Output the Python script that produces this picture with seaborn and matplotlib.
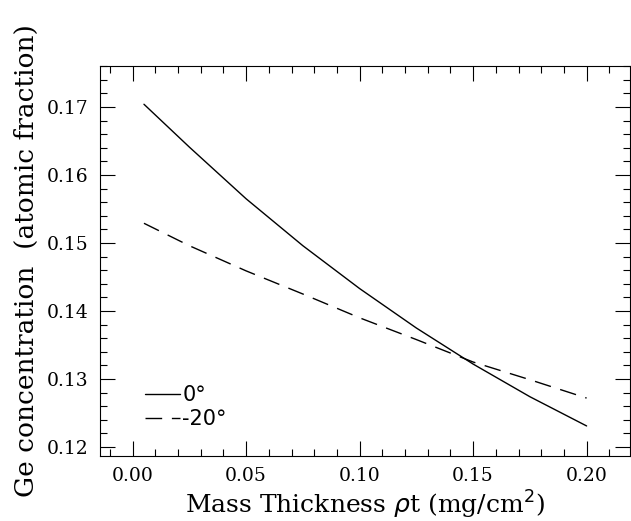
import matplotlib
matplotlib.use("Agg")
import matplotlib.pyplot as plt
import seaborn as sns
import pandas as pd
from matplotlib.ticker import MultipleLocator

# values
thickness = [0.005, 0.025, 0.05, 0.075, 0.10, 0.125, 0.15, 0.175, 0.20]
conc_0deg = [0.1704, 0.1641, 0.1565, 0.1496, 0.1433, 0.1375, 0.1322, 0.1274, 0.1231]
conc_m20deg = [0.1529, 0.1496, 0.1459, 0.1425, 0.1390, 0.1358, 0.1325, 0.1299, 0.1272]
labels = ["0°", "-20°"]

df = pd.concat([
    pd.DataFrame({"x": thickness, "y": conc_0deg, "angle": labels[0]}),
    pd.DataFrame({"x": thickness, "y": conc_m20deg, "angle": labels[1]}),
])

sns.set_style("ticks")
plt.rcParams["font.family"] = ["DejaVu Serif"]
plt.rcParams["text.color"] = "black"
plt.rcParams["axes.labelcolor"] = "black"
plt.rcParams["xtick.color"] = "black"
plt.rcParams["ytick.color"] = "black"
plt.rcParams["axes.edgecolor"] = "black"

fig = plt.figure(figsize=(6.31, 5.21), dpi=100)
ax = fig.add_axes([0.158, 0.125, 0.84, 0.748])

sns.lineplot(data=df, x="x", y="y", style="angle", color="black",
             dashes={labels[0]: "", labels[1]: (12, 7)}, linewidth=1.0,
             legend=True, ax=ax)

ax.set_xlim(-0.0145, 0.219)
ax.set_ylim(0.1187, 0.176)
ax.xaxis.set_major_locator(MultipleLocator(0.05))
ax.xaxis.set_minor_locator(MultipleLocator(0.01))
ax.yaxis.set_major_locator(MultipleLocator(0.01))
ax.yaxis.set_minor_locator(MultipleLocator(0.002))
ax.xaxis.set_major_formatter(plt.FormatStrFormatter("%.2f"))
ax.yaxis.set_major_formatter(plt.FormatStrFormatter("%.2f"))
ax.tick_params(which="both", direction="in", top=True, right=True, width=0.8)
ax.tick_params(which="major", length=11, labelsize=13.5, pad=8)
ax.tick_params(which="minor", length=5)
for s in ax.spines.values():
    s.set_linewidth(0.8)

ax.set_xlabel(r"Mass Thickness $\rho$t (mg/cm$^2$)", fontsize=18, labelpad=3)
ax.set_ylabel("Ge concentration  (atomic fraction)", fontsize=19, labelpad=6)

leg = ax.legend(title=None, loc="lower left", bbox_to_anchor=(0.05, 0.02),
                frameon=False, handlelength=1.7, handletextpad=0.1,
                labelspacing=0.2, prop={"family": "DejaVu Sans", "size": 15})

fig.savefig("out.png", dpi=100)
